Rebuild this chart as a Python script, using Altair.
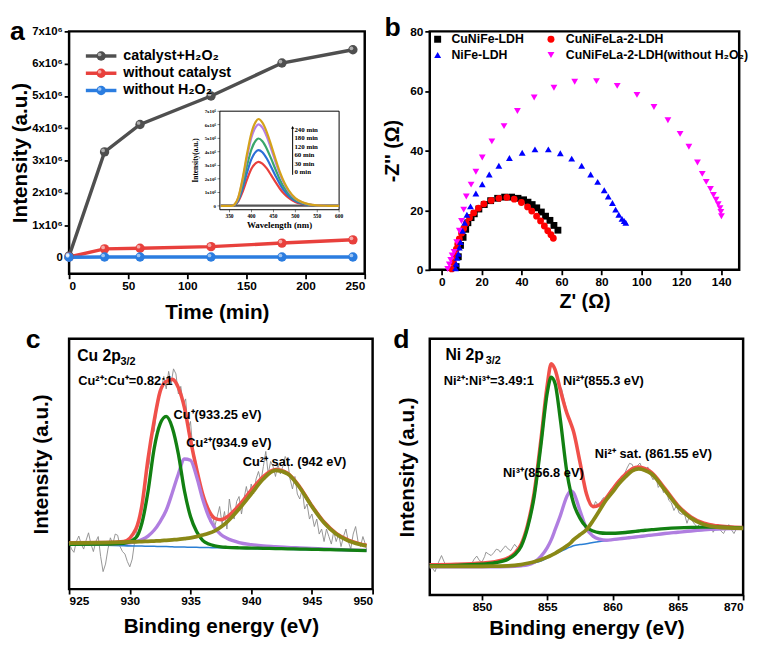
import altair as alt
import pandas as pd

SANS = "Liberation Sans"
SERIF = "Liberation Serif"

# ======================= DATA =======================
# ---- (a) main: intensity (x10^6) vs time ----
time_min = [0, 30, 60, 120, 180, 240]
catalyst_h2o2 = [0.05, 3.27, 4.12, 5.00, 6.02, 6.43]
without_catalyst = [0.02, 0.27, 0.29, 0.34, 0.45, 0.55]
without_h2o2 = [0.01, 0.02, 0.02, 0.02, 0.02, 0.02]
series_a = ["catalyst+H₂O₂", "without catalyst", "without H₂O₂"]
colors_a = ["#4f4f4f", "#e8403c", "#2b7de0"]
xticks_a = [0, 50, 100, 150, 200, 250]
yticks_a = [0, 1, 2, 3, 4, 5, 6, 7]

# ---- (a) inset: spectra (x10^6) ----
wavelength = [330, 355, 362, 370, 380, 390, 400, 410, 416, 425, 435, 445, 455, 465, 475, 485, 500, 515, 530, 550, 575, 600]
spec_0 = [0.02, 0.02, 0.02, 0.02, 0.02, 0.02, 0.02, 0.02, 0.02, 0.02, 0.02, 0.02, 0.02, 0.02, 0.02, 0.02, 0.02, 0.02, 0.02, 0.02, 0.02, 0.02]
spec_30 = [0, 0, 0.07, 0.33, 1.04, 1.96, 2.74, 3.16, 3.26, 3.13, 2.77, 2.28, 1.76, 1.27, 0.88, 0.59, 0.29, 0.15, 0.07, 0.02, 0.01, 0]
spec_60 = [0, 0, 0.08, 0.41, 1.32, 2.47, 3.46, 4.00, 4.12, 3.96, 3.50, 2.88, 2.22, 1.61, 1.11, 0.74, 0.37, 0.19, 0.08, 0.03, 0.01, 0]
spec_120 = [0, 0, 0.10, 0.50, 1.59, 2.99, 4.18, 4.83, 4.98, 4.78, 4.23, 3.49, 2.69, 1.94, 1.34, 0.90, 0.45, 0.22, 0.10, 0.03, 0.01, 0]
spec_180 = [0, 0, 0.12, 0.60, 1.93, 3.61, 5.06, 5.84, 6.02, 5.78, 5.12, 4.21, 3.25, 2.35, 1.63, 1.08, 0.54, 0.27, 0.12, 0.04, 0.01, 0]
spec_240 = [0, 0, 0.13, 0.64, 2.05, 3.85, 5.39, 6.23, 6.42, 6.16, 5.46, 4.49, 3.47, 2.50, 1.73, 1.16, 0.58, 0.29, 0.13, 0.04, 0.01, 0]
inset_series = ["0 min", "30 min", "60 min", "120 min", "180 min", "240 min"]
inset_colors = ["#555555", "#e8403c", "#2b6fd8", "#3aa66c", "#b57ee6", "#d4a21a"]
inset_labels = ["240 min", "180 min", "120 min", "60 min", "30 min", "0 min"]
inset_label_y = [5.62, 5.0, 4.37, 3.75, 3.12, 2.5]
inset_label_x = [498, 498, 498, 498, 498, 498]
arrow_x = [494]
arrow_y = [2.3]
arrow_y2 = [5.8]
inset_xdom = [328, 600]
inset_ydom = [-0.28, 7.0]
inset_xticks = [350, 400, 450, 500, 550, 600]
inset_yticks = [0, 1, 2, 3, 4, 5, 6, 7]
inset_xtitle = "Wavelength (nm)"
inset_ytitle = "Intensity(a.u.)"

# ---- (b) Nyquist ----
series_b = ["CuNiFe-LDH", "CuNiFeLa-2-LDH", "NiFe-LDH", "CuNiFeLa-2-LDH(without H₂O₂)"]
colors_b = ["#000000", "#ff0000", "#0000ff", "#ff00ff"]
shapes_b = ["square", "circle", "triangle-up", "triangle-down"]
zr_cunife = [7.2, 8.3, 9.4, 10.7, 12.0, 13.1, 14.7, 16.3, 18.6, 21.3, 24.5, 28.0, 31.5, 35.0, 38.2, 41.0, 43.2, 45.3, 47.6, 49.9, 52.0, 54.2, 56.2, 58.2]
zi_cunife = [1.1, 4.4, 8.2, 10.9, 13.6, 15.8, 17.5, 18.8, 20.4, 21.9, 23.2, 24.0, 24.4, 24.4, 24.0, 23.5, 22.7, 21.9, 20.8, 19.4, 18.0, 16.6, 14.9, 13.3]
zr_cunifela = [5.0, 5.8, 6.6, 7.3, 8.0, 8.8, 9.9, 11.0, 12.3, 13.9, 16.0, 18.4, 21.1, 24.8, 28.6, 32.6, 36.3, 39.9, 43.0, 45.1, 47.5, 49.5, 51.4, 53.1, 54.7, 55.9]
zi_cunifela = [0.3, 2.5, 4.8, 6.9, 8.6, 10.4, 12.3, 13.9, 15.6, 17.5, 19.1, 20.7, 22.1, 23.3, 24.0, 24.3, 23.7, 22.6, 21.1, 19.7, 18.0, 16.4, 14.7, 13.1, 11.8, 10.6]
zr_nife = [6.9, 7.2, 7.7, 8.3, 8.8, 9.4, 10.4, 11.5, 12.6, 14.4, 17.1, 20.3, 23.8, 28.6, 33.9, 40.3, 46.7, 53.4, 59.4, 65.1, 70.1, 74.6, 78.1, 81.4, 83.4, 85.5, 87.1, 88.7, 90.3, 91.4, 92.2]
zi_nife = [0.5, 2.0, 4.0, 5.4, 7.5, 9.3, 13.1, 15.8, 18.5, 21.3, 25.6, 28.7, 32.0, 34.9, 37.5, 39.3, 40.4, 40.4, 39.1, 37.3, 34.9, 32.0, 29.5, 26.7, 24.6, 22.4, 20.2, 18.5, 17.1, 16.4, 15.8]
zr_noh2o2 = [3.0, 3.8, 4.5, 5.2, 6.2, 7.5, 8.8, 9.9, 11.0, 12.3, 14.7, 17.1, 20.3, 25.1, 31.2, 37.9, 46.3, 56.2, 66.6, 77.5, 87.9, 97.8, 106.3, 113.3, 119.4, 123.8, 128.1, 130.5, 132.5, 134.6, 136.1, 137.4, 138.5, 139.4, 139.8, 140.1]
zi_noh2o2 = [0.3, 1.8, 3.3, 4.8, 6.0, 9.3, 13.1, 16.4, 20.2, 24.6, 28.6, 32.9, 37.7, 43.1, 48.2, 53.3, 57.8, 61.1, 63.1, 63.3, 61.7, 58.7, 54.6, 50.2, 45.6, 41.3, 36.0, 32.2, 29.5, 27.1, 25.1, 23.5, 22.0, 20.7, 19.4, 18.0]
xticks_b = [0, 20, 40, 60, 80, 100, 120, 140]
yticks_b = [0, 20, 40, 60, 80]

# ---- (c) Cu 2p3/2 XPS ----
raw_c_x = [925.0, 925.2, 925.4, 925.6, 925.8, 926.0, 926.2, 926.4, 926.6, 926.8, 927.0, 927.2, 927.4, 927.6, 927.8,
           928.0, 928.2, 928.4, 928.6, 928.8, 929.0, 929.2, 929.4, 929.6, 929.8, 930.0, 930.2, 930.4, 930.6, 930.8,
           931.0, 931.2, 931.4, 931.6, 931.8, 932.0, 932.2, 932.4, 932.6, 932.8, 933.0, 933.2, 933.4, 933.6, 933.8,
           934.0, 934.2, 934.4, 934.6, 934.8, 935.0, 935.2, 935.4, 935.6, 935.8, 936.0, 936.2, 936.4, 936.6, 936.8,
           937.0, 937.2, 937.4, 937.6, 937.8, 938.0, 938.2, 938.4, 938.6, 938.8, 939.0, 939.2, 939.4, 939.6, 939.8,
           940.0, 940.2, 940.4, 940.6, 940.8, 941.0, 941.2, 941.4, 941.6, 941.8, 942.0, 942.2, 942.4, 942.6, 942.8,
           943.0, 943.2, 943.4, 943.6, 943.8, 944.0, 944.2, 944.4, 944.6, 944.8, 945.0, 945.2, 945.4, 945.6, 945.8,
           946.0, 946.2, 946.4, 946.6, 946.8, 947.0, 947.2, 947.4, 947.6, 947.8, 948.0, 948.2, 948.4, 948.6, 948.8,
           949.0, 949.2, 949.4, 949.5]
raw_c_y = [18.6, 16, 14.7, 19, 21.2, 18, 16, 19.5, 22.5, 18, 15, 19, 21, 13, 7,
           10, 16, 20.5, 18, 22, 21.5, 17, 15, 14, 11, 8.9, 12, 19, 24, 27,
           34, 38, 47, 50, 62, 63, 71, 76, 80, 85, 80, 87, 82, 88, 86,
           78, 81, 74, 76, 64, 67, 55, 52, 46, 41, 38, 33, 34, 27, 30,
           25, 29, 33, 26, 31, 24, 36, 30, 28, 35, 37, 30, 36, 41, 36,
           42, 38, 44, 47, 43, 49, 55, 46, 51, 49, 45, 50, 46, 49, 53,
           51, 44, 40, 45, 38, 36, 40, 32, 34, 28, 30, 25, 28, 22, 24,
           19, 24, 21, 18, 23, 19, 22, 17, 21, 24, 19, 16, 22, 25, 19,
           17, 21, 18, 16]
grid_c = [925, 928, 929.5, 930.5, 931, 931.5, 932, 932.5, 933, 933.5, 934, 934.5, 935, 935.5, 936, 936.5, 937, 937.5, 938, 939, 940, 941, 942, 943, 944, 945, 946, 947, 948, 949.5]
base_c = [17.8, 17.5, 17.3, 17.2, 17.2, 17.1, 17.1, 17.0, 17.0, 16.9, 16.8, 16.8, 16.7, 16.7, 16.6, 16.6, 16.5, 16.5, 16.4, 16.3, 16.2, 16.1, 16.0, 15.9, 15.8, 15.7, 15.6, 15.5, 15.4, 15.2]
cu1_c = [17.9, 18.0, 18.3, 20.5, 26.4, 39.0, 56.0, 66.0, 69.0, 64.5, 54.0, 39.3, 29.0, 23.0, 19.5, 18.0, 17.3, 16.9, 16.7, 16.5, 16.4, 16.3, 16.2, 16.1, 16.0, 15.9, 15.8, 15.7, 15.6, 15.4]
cu2_c = [17.9, 18.0, 18.3, 19.0, 19.8, 21.2, 23.5, 27.0, 31.5, 38.5, 46.0, 52.0, 51.5, 45.0, 36.0, 29.0, 24.5, 21.8, 20.3, 18.6, 17.8, 17.3, 17.0, 16.7, 16.5, 16.3, 16.1, 15.9, 15.7, 15.5]
sat_c = [18.4, 18.6, 18.8, 18.9, 19.0, 19.1, 19.2, 19.3, 19.5, 19.7, 19.9, 20.2, 20.5, 21.0, 21.6, 22.3, 23.3, 24.8, 26.8, 32.0, 38.0, 44.0, 47.4, 46.0, 40.5, 33.0, 26.5, 22.0, 19.3, 17.3]
env_c = [18.5, 18.6, 19.0, 24.0, 33.5, 52.0, 67.0, 79.0, 83.0, 83.8, 80.5, 72.5, 59.5, 48.0, 38.0, 31.5, 28.3, 27.7, 28.8, 33.5, 39.5, 45.0, 47.8, 46.3, 40.8, 33.3, 26.8, 22.3, 19.6, 17.5]
xticks_c = [925, 930, 935, 940, 945, 950]
head_c = ["Cu 2p"]
head_c_sub = ["3/2"]
head_c_x = [925.67]
head_c_y = [91.1]
ann_c_text = ["Cu²⁺:Cu⁺=0.82:1", "Cu⁺(933.25 eV)", "Cu²⁺(934.9 eV)", "Cu²⁺ sat. (942 eV)"]
ann_c_x = [925.75, 933.6, 934.66, 939.3]
ann_c_y = [81.5, 67.9, 56.7, 49.2]

# ---- (d) Ni 2p3/2 XPS ----
raw_d_x = [846.0, 846.2, 846.4, 846.6, 846.9, 847.1, 847.3, 847.8, 848.3, 848.8, 849.2, 849.4, 849.6, 849.8, 850.0,
           850.2, 850.3, 850.5, 850.7, 850.9, 851.1, 851.3, 851.4, 851.6, 851.8, 852.0, 852.2, 852.4, 852.5, 852.7,
           852.9, 853.1, 853.3, 853.5, 853.7, 853.9, 854.1, 854.3, 854.5, 854.7, 854.9, 855.1, 855.3, 855.5, 855.7,
           855.9, 856.1, 856.3, 856.5, 856.7, 856.9, 857.1, 857.3, 857.5, 857.7, 857.9, 858.1, 858.3, 858.5, 858.7,
           858.9, 859.1, 859.3, 859.5, 859.7, 859.9, 860.1, 860.3, 860.5, 860.7, 860.9, 861.1, 861.3, 861.5, 861.7,
           861.9, 862.1, 862.3, 862.5, 862.7, 862.9, 863.1, 863.3, 863.5, 863.7, 863.9, 864.1, 864.3, 864.5, 864.7,
           864.9, 865.1, 865.3, 865.5, 865.7, 865.9, 866.1, 866.3, 866.5, 866.7, 866.9, 867.1, 867.3, 867.5, 867.7,
           867.9, 868.1, 868.3, 868.5, 868.7, 868.9, 869.1, 869.3, 869.5, 869.7, 870.0]
raw_d_y = [12.5, 10.5, 9.1, 12, 15.4, 13, 11.0, 11.2, 11.0, 11.5, 12.2, 14, 15.2, 13.5, 12.9,
           15, 16.7, 16, 15.4, 16.5, 17.9, 17.5, 16.7, 18, 19.2, 18, 17.3, 19, 19.8, 18.5,
           17.9, 21.7, 24, 28, 33, 38, 44, 52, 60, 69, 77, 85, 89.5, 89, 86.5,
           82, 80.5, 76, 72, 68.5, 66, 62, 56, 52, 46, 40.5, 37.5, 36, 34, 36.5,
           35, 36.5, 38, 37, 39.5, 41.5, 41, 44, 45, 46.5, 47, 49.5, 51.4, 51, 48.5,
           50.5, 51.5, 49, 48, 50, 47, 45, 46.5, 42, 43.5, 40, 41.5, 37, 36, 33,
           35, 32, 31.5, 31.8, 28, 31, 29, 27.5, 26.5, 28, 27, 25, 26.5, 28, 24.5,
           26, 27.5, 25, 24, 26, 27.5, 25.5, 24, 26, 26.5, 25.5]
grid_d = [846, 848, 850, 851, 852, 852.5, 853, 853.5, 854, 854.5, 855, 855.3, 855.6, 856, 856.5, 856.8, 857, 857.5, 858, 858.5, 859, 859.5, 860, 860.5, 861, 861.5, 862, 862.5, 863, 864, 865, 866, 867, 868, 870]
base_d = [11.0, 11.0, 11.0, 11.0, 11.1, 11.2, 11.4, 11.8, 12.5, 13.3, 14.5, 15.3, 16.0, 17.0, 18.2, 18.8, 19.2, 19.7, 20.0, 20.5, 20.9, 21.2, 21.5, 21.8, 22.1, 22.4, 22.7, 23.0, 23.3, 23.9, 24.4, 24.9, 25.3, 25.6, 26.0]
ni2_d = [11.5, 11.6, 12.0, 12.6, 14.0, 15.7, 19.0, 26.5, 38.5, 58.0, 79.0, 85.0, 82.5, 68.5, 48.0, 40.0, 36.0, 30.0, 26.5, 25.0, 24.3, 24.1, 24.1, 24.2, 24.4, 24.7, 25.0, 25.3, 25.5, 25.9, 26.2, 26.4, 26.5, 26.5, 26.2]
ni3_d = [11.0, 11.0, 11.0, 11.0, 11.1, 11.2, 11.4, 11.8, 12.8, 15.0, 18.5, 21.5, 25.5, 31.0, 38.5, 40.6, 40.0, 33.0, 26.0, 23.0, 21.8, 21.4, 21.6, 21.9, 22.2, 22.5, 22.8, 23.1, 23.4, 24.0, 24.5, 25.0, 25.4, 25.7, 26.0]
sat_d = [11.2, 11.2, 11.2, 11.3, 11.4, 11.6, 11.9, 12.4, 13.0, 13.8, 14.8, 15.5, 16.3, 17.5, 19.2, 20.4, 21.5, 23.5, 25.5, 29.0, 33.0, 37.0, 40.2, 43.5, 46.2, 48.5, 49.2, 48.6, 47.2, 41.0, 34.5, 30.0, 27.5, 26.5, 26.0]
env_d = [11.8, 12.0, 12.5, 13.0, 14.5, 16.3, 19.8, 27.5, 40.0, 60.0, 82.0, 90.3, 88.0, 80.0, 71.0, 67.0, 64.0, 52.0, 39.5, 34.5, 35.2, 37.8, 41.3, 44.5, 47.2, 49.3, 50.0, 49.3, 47.8, 41.6, 35.0, 30.5, 28.0, 27.0, 26.3]
xticks_d = [850, 855, 860, 865, 870]
head_d = ["Ni 2p"]
head_d_sub = ["3/2"]
head_d_x = [847.2]
head_d_y = [91.8]
ann_d_text = ["Ni²⁺:Ni³⁺=3.49:1", "Ni²⁺(855.3 eV)", "Ni³⁺(856.8 eV)", "Ni²⁺ sat. (861.55 eV)"]
ann_d_x = [847.07, 856.2, 851.6, 858.64]
ann_d_y = [81.8, 81.8, 46.2, 53.5]

# XPS colours
C_RAW, C_ENV, C_BASE = "#8a8a8a", "#f0504a", "#2a7fd4"
C_LOW, C_HIGH, C_SAT = "#128012", "#b07ee0", "#8a8816"

# ======================= LAYOUT =======================
W_A, H_A = 300, 246
W_B, H_B = 314, 242
W_C, H_C = 308, 254
W_D, H_D = 318, 260
XDOM_A = [0, 250]
YDOM_A = [-0.5, 7]
IN_X = [153, 274]     # inset frame, px from the plot's left edge
IN_Y = [181, 81]      # inset frame, px from the plot's top edge (bottom, top)
LEG_A_X = [17, 48, 32.5, 55]   # legend of (a): line start, line end, dot, label (px)
LEG_A_Y0, LEG_A_DY = 25, 17.5
LEG_B_SX = [8, 123]            # legend of (b): symbol x per column (px)
LEG_B_LX = [22, 138]           # label x per column
LEG_B_Y = [8, 24]              # row y


def panel_label(ch, x, y):
    return alt.Chart(pd.DataFrame({"t": [ch]})).mark_text(
        font=SANS, fontSize=27, fontWeight="bold", align="left",
        baseline="alphabetic", color="black"
    ).encode(text="t:N", x=alt.value(x), y=alt.value(y))


# ---------------- panel a ----------------
rows = []
for name, vals in zip(series_a, [catalyst_h2o2, without_catalyst, without_h2o2]):
    rows += [{"t": t, "v": v, "s": name} for t, v in zip(time_min, vals)]
df_a = pd.DataFrame(rows)

sx_a = alt.Scale(domain=XDOM_A, nice=False)
sy_a = alt.Scale(domain=YDOM_A, nice=False)
ax_a = alt.Axis(values=xticks_a, title="Time (min)", titlePadding=10)
ay_a = alt.Axis(values=yticks_a, title="Intensity (a.u.)", titlePadding=1, labelFontSize=11.5,
                labelExpr="datum.value == 0 ? '0' : datum.value + 'x10⁶'")
x_a = alt.X("t:Q", scale=sx_a, axis=ax_a)
y_a = alt.Y("v:Q", scale=sy_a, axis=ay_a)
x20 = alt.X2("t2:Q")
y20 = alt.Y2("v2:Q")
sc_a = alt.Scale(domain=series_a, range=colors_a)

lines_a = alt.Chart(df_a).mark_line(strokeWidth=3.5).encode(
    x=x_a, y=y_a, color=alt.Color("s:N", scale=sc_a, legend=None))
pts_a = alt.Chart(df_a).mark_point(filled=True, size=90, opacity=1).encode(
    x=x_a, y=y_a, color=alt.Color("s:N", scale=sc_a, legend=None))
hl_a = alt.Chart(df_a).mark_point(filled=True, color="white", opacity=0.55, size=14,
                                  xOffset=-1.5, yOffset=-1.5).encode(x=x_a, y=y_a)

# legend of (a), drawn as marks
legend_a = []
for i, (name, col) in enumerate(zip(series_a, colors_a)):
    yy = LEG_A_Y0 + i * LEG_A_DY
    one = alt.Chart(pd.DataFrame({"s": [name]}))
    legend_a.append(one.mark_rule(color=col, strokeWidth=3.5).encode(
        x=alt.value(LEG_A_X[0]), x2=alt.value(LEG_A_X[1]), y=alt.value(yy)))
    legend_a.append(one.mark_point(filled=True, size=90, opacity=1, color=col).encode(
        x=alt.value(LEG_A_X[2]), y=alt.value(yy)))
    legend_a.append(one.mark_point(filled=True, color="white", opacity=0.55, size=14,
                                   xOffset=-1.5, yOffset=-1.5).encode(
        x=alt.value(LEG_A_X[2]), y=alt.value(yy)))
    legend_a.append(one.mark_text(font=SANS, fontSize=14.5, fontWeight="bold", align="left",
                                  baseline="middle", color="black").encode(
        x=alt.value(LEG_A_X[3]), y=alt.value(yy), text="s:N"))

# inset: its own wavelength / intensity data are mapped into the frame of the main plot
t_px = (XDOM_A[1] - XDOM_A[0]) / W_A
v_px = (YDOM_A[1] - YDOM_A[0]) / H_A
T0, T1 = XDOM_A[0] + IN_X[0] * t_px, XDOM_A[0] + IN_X[1] * t_px
V0, V1 = YDOM_A[1] - IN_Y[0] * v_px, YDOM_A[1] - IN_Y[1] * v_px
KX = (T1 - T0) / (inset_xdom[1] - inset_xdom[0])
KY = (V1 - V0) / (inset_ydom[1] - inset_ydom[0])


def mx(f):
    return f"{T0} + (datum.{f} - {inset_xdom[0]}) * {KX}"


def my(f):
    return f"{V0} + (datum.{f} - ({inset_ydom[0]})) * {KY}"


def inset_chart(df):
    calc = {}
    for c in df.columns:
        if c in ("w", "w2"):
            calc[{"w": "t", "w2": "t2"}[c]] = mx(c)
        if c in ("iv", "iv2"):
            calc[{"iv": "v", "iv2": "v2"}[c]] = my(c)
    return alt.Chart(df).transform_calculate(**calc)


frame_in = inset_chart(pd.DataFrame({"w": [inset_xdom[0]], "w2": [inset_xdom[1]],
                                     "iv": [inset_ydom[0]], "iv2": [inset_ydom[1]]})).mark_rect(
    filled=False, stroke="black", strokeWidth=1).encode(x=x_a, x2=x20, y=y_a, y2=y20)
curves_in = []
for name, vals, col in zip(inset_series, [spec_0, spec_30, spec_60, spec_120, spec_180, spec_240], inset_colors):
    curves_in.append(inset_chart(pd.DataFrame({"w": wavelength, "iv": vals}))
                     .mark_line(color=col, strokeWidth=2.2, interpolate="monotone")
                     .encode(x=x_a, y=y_a))
arrow_in = inset_chart(pd.DataFrame({"w": arrow_x, "iv": arrow_y, "iv2": arrow_y2})).mark_rule(
    color="black", strokeWidth=1).encode(x=x_a, y=y_a, y2=y20)
head_in = inset_chart(pd.DataFrame({"w": arrow_x, "iv": arrow_y2})).mark_point(
    shape="triangle-up", filled=True, size=10, color="black", opacity=1).encode(x=x_a, y=y_a)
text_in = inset_chart(pd.DataFrame({"w": inset_label_x, "iv": inset_label_y, "lab": inset_labels})).mark_text(
    font=SERIF, fontSize=7, fontWeight="bold", align="left", baseline="middle", color="black"
).encode(x=x_a, y=y_a, text="lab:N")
# inset axes (ticks + labels + titles)
xt_df = pd.DataFrame({"w": inset_xticks, "iv": [inset_ydom[0]] * len(inset_xticks),
                      "lab": [str(v) for v in inset_xticks]})
yt_df = pd.DataFrame({"w": [inset_xdom[0]] * len(inset_yticks), "iv": inset_yticks,
                      "lab": ["0" if v == 0 else f"{v}x10⁶" for v in inset_yticks]})
xtick_in = inset_chart(xt_df).mark_tick(orient="vertical", size=2.5, thickness=0.7,
                                        color="black", yOffset=1.2).encode(x=x_a, y=y_a)
ytick_in = inset_chart(yt_df).mark_tick(orient="horizontal", size=2.5, thickness=0.7,
                                        color="black", xOffset=-1.2).encode(x=x_a, y=y_a)
xlab_in = inset_chart(xt_df).mark_text(font=SERIF, fontSize=5.5, fontWeight="bold",
                                       baseline="top", dy=4, color="black").encode(
    x=x_a, y=y_a, text="lab:N")
ylab_in = inset_chart(yt_df).mark_text(font=SERIF, fontSize=5, fontWeight="bold",
                                       align="right", baseline="middle", dx=-4,
                                       color="black").encode(x=x_a, y=y_a, text="lab:N")
xtit_in = inset_chart(pd.DataFrame({"w": [(inset_xdom[0] + inset_xdom[1]) / 2],
                                    "iv": [inset_ydom[0]], "lab": [inset_xtitle]})).mark_text(
    font=SERIF, fontSize=9, fontWeight="bold", baseline="top", dy=12, color="black").encode(
    x=x_a, y=y_a, text="lab:N")
ytit_in = inset_chart(pd.DataFrame({"w": [inset_xdom[0]],
                                    "iv": [(inset_ydom[0] + inset_ydom[1]) / 2],
                                    "lab": [inset_ytitle]})).mark_text(
    font=SERIF, fontSize=7.5, fontWeight="bold", angle=270, baseline="bottom", dy=-20,
    color="black").encode(x=x_a, y=y_a, text="lab:N")

panel_a = alt.layer(
    lines_a, pts_a, hl_a, frame_in, *curves_in, arrow_in, head_in, text_in,
    xtick_in, ytick_in, xlab_in, ylab_in, xtit_in, ytit_in, *legend_a,
    panel_label("a", -60, 9)
).properties(width=W_A, height=H_A)

# ---------------- panel b ----------------
rows = []
for name, xs, ys in zip(series_b, [zr_cunife, zr_cunifela, zr_nife, zr_noh2o2],
                        [zi_cunife, zi_cunifela, zi_nife, zi_noh2o2]):
    rows += [{"zr": a, "zi": b, "s": name} for a, b in zip(xs, ys)]
df_b = pd.DataFrame(rows)
x_b = alt.X("zr:Q", scale=alt.Scale(domain=[-6, 149], nice=False),
            axis=alt.Axis(values=xticks_b, title="Z' (Ω)", titlePadding=4, titleFontSize=20))
y_b = alt.Y("zi:Q", scale=alt.Scale(domain=[0, 80], nice=False),
            axis=alt.Axis(values=yticks_b, title="-Z'' (Ω)", titlePadding=7, titleFontSize=20))
pts_b = alt.Chart(df_b).mark_point(filled=True, size=48, opacity=1).encode(
    x=x_b, y=y_b,
    color=alt.Color("s:N", scale=alt.Scale(domain=series_b, range=colors_b), legend=None),
    shape=alt.Shape("s:N", scale=alt.Scale(domain=series_b, range=shapes_b), legend=None))

legend_b = []
for i, (name, col, shp) in enumerate(zip(series_b, colors_b, shapes_b)):
    r, c = divmod(i, 2)
    one = alt.Chart(pd.DataFrame({"s": [name]}))
    legend_b.append(one.mark_point(filled=True, size=50, opacity=1, color=col, shape=shp).encode(
        x=alt.value(LEG_B_SX[c]), y=alt.value(LEG_B_Y[r])))
    legend_b.append(one.mark_text(font=SANS, fontSize=12.5, fontWeight="bold", align="left",
                                  baseline="middle", color="black").encode(
        x=alt.value(LEG_B_LX[c]), y=alt.value(LEG_B_Y[r]), text="s:N"))

panel_b = alt.layer(pts_b, *legend_b, panel_label("b", -46, 5)).properties(width=W_B, height=H_B)


# ---------------- XPS helper ----------------
def xps_panel(label, lab_x, W, H, xdom, xticks, raw_x, raw_y, grid, base, low, high, sat, env,
              head, head_sub, hx, hy, sub_dx, ann_t, ann_x, ann_y, ytp, xtp):
    xe = alt.X("e:Q", scale=alt.Scale(domain=xdom, nice=False),
               axis=alt.Axis(values=xticks, title="Binding energy (eV)", titlePadding=xtp))
    ye = alt.Y("i:Q", scale=alt.Scale(domain=[0, 100], nice=False),
               axis=alt.Axis(labels=False, ticks=False, title="Intensity (a.u.)",
                             titlePadding=ytp))
    raw = alt.Chart(pd.DataFrame({"e": raw_x, "i": raw_y})).mark_line(
        color=C_RAW, strokeWidth=0.9).encode(x=xe, y=ye)

    def comp(vals, col, w):
        return alt.Chart(pd.DataFrame({"e": grid, "i": vals})).mark_line(
            color=col, strokeWidth=w, interpolate="monotone").encode(x=xe, y=ye)

    layers = [raw, comp(env, C_ENV, 3.6), comp(base, C_BASE, 1.6), comp(high, C_HIGH, 3.4),
              comp(low, C_LOW, 3.4), comp(sat, C_SAT, 3.8)]
    hd = pd.DataFrame({"e": hx, "i": hy, "t": head, "s": head_sub})
    layers.append(alt.Chart(hd).mark_text(font=SANS, fontSize=16, fontWeight="bold", align="left",
                                          baseline="alphabetic", color="black")
                  .encode(x=xe, y=ye, text="t:N"))
    layers.append(alt.Chart(hd).mark_text(font=SANS, fontSize=11, fontWeight="bold", align="left",
                                          baseline="alphabetic", color="black", dx=sub_dx, dy=4)
                  .encode(x=xe, y=ye, text="s:N"))
    layers.append(alt.Chart(pd.DataFrame({"e": ann_x, "i": ann_y, "t": ann_t})).mark_text(
        font=SANS, fontSize=13, fontWeight="bold", align="left", baseline="alphabetic",
        color="black").encode(x=xe, y=ye, text="t:N"))
    layers.append(panel_label(label, lab_x, 9))
    return alt.layer(*layers).properties(width=W, height=H)


panel_c = xps_panel("c", -44, W_C, H_C, [925, 950], xticks_c, raw_c_x, raw_c_y, grid_c,
                    base_c, cu1_c, cu2_c, sat_c, env_c, head_c, head_c_sub, head_c_x, head_c_y,
                    44, ann_c_text, ann_c_x, ann_c_y, 18, 9)
panel_d = xps_panel("d", -37, W_D, H_D, [846, 870], xticks_d, raw_d_x, raw_d_y, grid_d,
                    base_d, ni2_d, ni3_d, sat_d, env_d, head_d, head_d_sub, head_d_x, head_d_y,
                    41, ann_d_text, ann_d_x, ann_d_y, 12, 5)

chart = alt.concat(panel_a, panel_b, panel_c, panel_d, columns=2,
                   spacing={"row": 0, "column": 6}, align="each").resolve_scale(
    color="independent", shape="independent"
).properties(
    padding=0
).configure_view(stroke="black", strokeWidth=2.5).configure_axis(
    labelFont=SANS, labelFontSize=12, labelFontWeight="bold", labelColor="black",
    titleFont=SANS, titleFontSize=21, titleFontWeight="bold", titleColor="black",
    tickColor="black", tickWidth=1.8, tickSize=5, domain=False, grid=False, labelPadding=2
)

chart.save("out.html", embed_options={"renderer": "svg", "actions": False})
